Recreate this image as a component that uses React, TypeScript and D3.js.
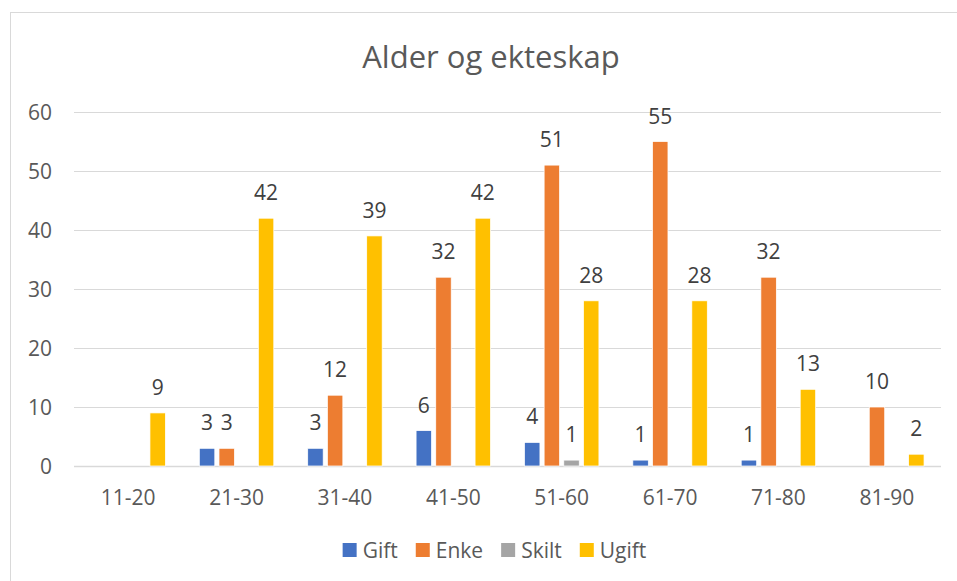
import React, { useRef, useEffect } from 'react';
import * as d3 from 'd3';

const categories = ['11-20', '21-30', '31-40', '41-50', '51-60', '61-70', '71-80', '81-90'];
const seriesNames = ['Gift', 'Enke', 'Skilt', 'Ugift'];
const seriesColors = ['#4472C4', '#ED7D31', '#A5A5A5', '#FFC000'];
// null = empty cell (no bar, no label)
const gift = [null, 3, 3, 6, 4, 1, 1, null];
const enke = [null, 3, 12, 32, 51, 55, 32, 10];
const skilt = [null, null, null, null, 1, null, null, null];
const ugift = [9, 42, 39, 42, 28, 28, 13, 2];
const yTicks = [0, 10, 20, 30, 40, 50, 60];

const W = 957;
const H = 581;

export default function App() {
  const svgRef = useRef<SVGSVGElement>(null);

  useEffect(() => {
    if (!svgRef.current) return;
    const svg = d3.select(svgRef.current);
    svg.selectAll('*').remove();

    const font = '"Open Sans", "Noto Sans", sans-serif';
    const values = [gift, enke, skilt, ugift];
    const plot = { left: 74, right: 941, top: 112, bottom: 466 };

    // chart frame
    svg.append('rect')
      .attr('x', 10.5).attr('y', 12.5)
      .attr('width', W + 20).attr('height', H + 20)
      .attr('fill', 'white').attr('stroke', '#D9D9D9').attr('stroke-width', 1);

    svg.append('text')
      .attr('x', 491).attr('y', 68)
      .attr('text-anchor', 'middle')
      .attr('font-family', font).attr('font-size', 31)
      .attr('fill', '#595959')
      .text('Alder og ekteskap');

    const x = d3.scaleBand<string>()
      .domain(categories)
      .range([plot.left, plot.right]);

    const y = d3.scaleLinear()
      .domain([0, 60])
      .range([plot.bottom, plot.top]);

    // Excel style: gap width 219%, overlap -27%
    const barW = x.bandwidth() / 7;
    const barStep = barW * 1.27;
    const groupW = barW * 4 + barW * 0.27 * 3;

    // grid lines
    svg.append('g')
      .selectAll('line')
      .data(yTicks)
      .enter()
      .append('line')
      .attr('x1', plot.left).attr('x2', plot.right)
      .attr('y1', d => Math.round(y(d)) + 0.5)
      .attr('y2', d => Math.round(y(d)) + 0.5)
      .attr('stroke', '#D9D9D9')
      .attr('stroke-width', d => (d === 0 ? 1.5 : 1));

    // y tick labels
    svg.append('g')
      .selectAll('text')
      .data(yTicks)
      .enter()
      .append('text')
      .attr('x', 52)
      .attr('y', d => y(d))
      .attr('dy', '0.36em')
      .attr('text-anchor', 'end')
      .attr('font-family', font).attr('font-size', 21)
      .attr('fill', '#595959')
      .text(d => d);

    // x category labels
    svg.append('g')
      .selectAll('text')
      .data(categories)
      .enter()
      .append('text')
      .attr('x', d => (x(d) as number) + x.bandwidth() / 2)
      .attr('y', 505)
      .attr('text-anchor', 'middle')
      .attr('font-family', font).attr('font-size', 21)
      .attr('fill', '#595959')
      .text(d => d);

    // bars and labels
    values.forEach((vals, si) => {
      const items = categories
        .map((c, ci) => ({ c, v: vals[ci] }))
        .filter(d => d.v !== null) as { c: string; v: number }[];
      const offset = (x.bandwidth() - groupW) / 2 + si * barStep;

      const g = svg.append('g');
      g.selectAll('rect')
        .data(items)
        .enter()
        .append('rect')
        .attr('x', d => (x(d.c) as number) + offset)
        .attr('y', d => y(d.v))
        .attr('width', barW)
        .attr('height', d => y(0) - y(d.v))
        .attr('fill', seriesColors[si])
        .attr('stroke', 'white')
        .attr('stroke-width', 0.75);

      g.selectAll('text')
        .data(items)
        .enter()
        .append('text')
        .attr('x', d => (x(d.c) as number) + offset + barW / 2)
        .attr('y', d => y(d.v) - 18)
        .attr('text-anchor', 'middle')
        .attr('font-family', font).attr('font-size', 21)
        .attr('fill', '#404040')
        .text(d => d.v);
    });

    // legend, centered under the plot
    const legend = svg.append('g');
    const items = legend.selectAll('g')
      .data(seriesNames)
      .enter()
      .append('g');
    items.append('rect')
      .attr('width', 14).attr('height', 14)
      .attr('y', -7)
      .attr('fill', (_d, i) => seriesColors[i]);
    items.append('text')
      .attr('x', 20)
      .attr('dy', '0.36em')
      .attr('font-family', font).attr('font-size', 21)
      .attr('fill', '#595959')
      .text(d => d);

    let cursor = 0;
    const positions: number[] = [];
    items.each(function () {
      positions.push(cursor);
      const t = d3.select(this).select('text').node() as SVGTextElement;
      cursor += 20 + t.getComputedTextLength() + 18;
    });
    const total = cursor - 18;
    items.attr('transform', (_d, i) => `translate(${positions[i]},0)`);
    legend.attr('transform', `translate(${494.5 - total / 2},550)`);
  }, []);

  return (
    <div style={{ position: 'absolute', left: 0, top: 0, width: W, height: H, background: 'white' }}>
      <svg ref={svgRef} width={W} height={H} />
    </div>
  );
}
